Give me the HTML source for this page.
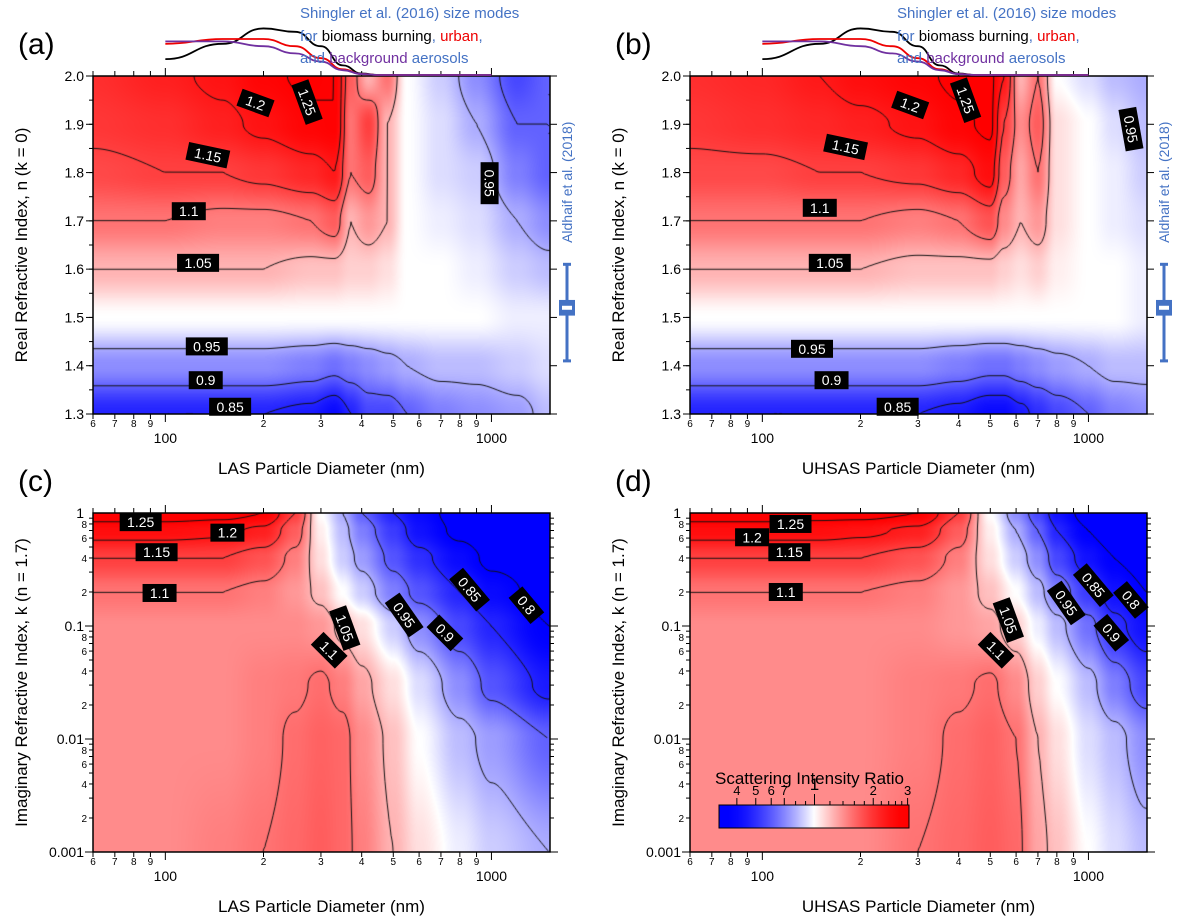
<!DOCTYPE html>
<html><head><meta charset="utf-8">
<style>
body{margin:0;background:#fff;width:1178px;height:922px;overflow:hidden;position:relative;font-family:"Liberation Sans",sans-serif}
canvas{position:absolute}
svg{position:absolute;left:0;top:0}
</style></head>
<body>
<canvas id="cva"></canvas>
<canvas id="cvb"></canvas>
<canvas id="cvc"></canvas>
<canvas id="cvd"></canvas>
<svg id="ov" width="1178" height="922"></svg>
<script>
// ---------- data ----------
const diamA=[60,100,150,200,280,330,370,420,480,550,700,900,1200,1500];
const nRows=[2.0,1.9,1.8,1.7,1.6,1.5,1.4,1.3];
const ratioA=[
[1.17,1.19,1.21,1.24,1.26,1.25,1.12,1.05,1.10,1.00,0.97,0.93,0.88,0.90],
[1.16,1.17,1.19,1.21,1.24,1.25,1.10,1.15,1.05,1.00,0.98,0.95,0.90,0.90],
[1.14,1.15,1.15,1.16,1.18,1.20,1.10,1.12,1.05,1.00,0.98,0.97,0.92,0.90],
[1.10,1.10,1.09,1.09,1.10,1.12,1.05,1.07,1.05,1.00,0.99,0.98,0.95,0.93],
[1.05,1.05,1.05,1.05,1.04,1.04,1.03,1.03,1.02,1.00,1.00,0.99,0.97,0.96],
[1.00,1.00,1.00,1.00,1.00,1.00,1.00,1.00,1.00,1.00,1.00,1.00,0.99,0.99],
[0.93,0.93,0.93,0.93,0.92,0.91,0.92,0.93,0.94,0.95,0.96,0.96,0.97,0.98],
[0.85,0.85,0.85,0.85,0.84,0.82,0.85,0.88,0.88,0.90,0.92,0.93,0.94,0.96]];
const diamB=[60,100,150,200,300,400,500,550,620,700,800,1000,1200,1500];
const ratioB=[
[1.17,1.18,1.20,1.22,1.24,1.26,1.26,1.20,1.05,1.10,1.00,0.98,0.96,0.95],
[1.16,1.17,1.18,1.19,1.21,1.24,1.26,1.15,1.08,1.12,1.02,1.00,0.98,0.96],
[1.14,1.14,1.15,1.15,1.16,1.18,1.22,1.12,1.06,1.10,1.02,1.00,0.99,0.97],
[1.10,1.10,1.10,1.10,1.09,1.10,1.13,1.08,1.05,1.07,1.02,1.00,0.99,0.98],
[1.05,1.05,1.05,1.05,1.04,1.04,1.04,1.03,1.02,1.03,1.01,1.00,1.00,0.99],
[1.00,1.00,1.00,1.00,1.00,1.00,1.00,1.00,1.00,1.00,1.00,1.00,1.00,0.99],
[0.93,0.93,0.93,0.93,0.93,0.92,0.91,0.91,0.92,0.93,0.94,0.95,0.96,0.96],
[0.85,0.85,0.85,0.85,0.85,0.84,0.82,0.82,0.84,0.86,0.88,0.90,0.92,0.93]];
const kRows=[1,0.7,0.4,0.2,0.1,0.03,0.01,0.001];
const diamC=[60,100,150,200,250,300,350,400,500,600,800,1000,1500];
const ratioC=[
[1.28,1.28,1.27,1.25,1.15,1.00,0.95,0.90,0.85,0.82,0.78,0.76,0.76],
[1.22,1.22,1.21,1.19,1.12,1.01,0.96,0.92,0.87,0.83,0.79,0.77,0.76],
[1.15,1.15,1.15,1.13,1.09,1.02,0.97,0.94,0.89,0.86,0.82,0.79,0.77],
[1.10,1.10,1.10,1.09,1.07,1.04,1.00,0.97,0.92,0.89,0.85,0.82,0.78],
[1.08,1.08,1.08,1.08,1.08,1.07,1.04,1.02,0.97,0.93,0.88,0.85,0.80],
[1.08,1.08,1.08,1.09,1.095,1.105,1.09,1.06,1.02,0.98,0.93,0.89,0.84],
[1.08,1.08,1.08,1.09,1.105,1.115,1.11,1.08,1.04,1.00,0.96,0.94,0.90],
[1.08,1.08,1.09,1.10,1.11,1.12,1.11,1.09,1.05,1.02,0.99,0.97,0.95]];
const diamD=[60,100,150,200,300,400,500,600,700,800,1000,1200,1500];
const ratioD=[
[1.28,1.28,1.27,1.27,1.25,1.15,1.00,0.93,0.88,0.83,0.78,0.76,0.76],
[1.22,1.22,1.22,1.21,1.19,1.12,1.01,0.95,0.90,0.85,0.80,0.77,0.76],
[1.15,1.15,1.15,1.15,1.13,1.09,1.02,0.97,0.93,0.88,0.83,0.80,0.78],
[1.10,1.10,1.10,1.10,1.09,1.07,1.04,1.00,0.96,0.92,0.87,0.83,0.80],
[1.08,1.08,1.08,1.08,1.08,1.07,1.06,1.03,0.99,0.96,0.91,0.86,0.83],
[1.08,1.08,1.08,1.08,1.09,1.095,1.105,1.08,1.03,1.00,0.96,0.92,0.88],
[1.08,1.08,1.08,1.08,1.09,1.105,1.115,1.10,1.05,1.02,0.98,0.96,0.93],
[1.08,1.08,1.08,1.08,1.10,1.11,1.12,1.11,1.06,1.04,1.00,0.98,0.96]];
const levelsN=[0.85,0.9,0.95,1.05,1.1,1.15,1.2,1.25];
const levelsK=[0.8,0.85,0.9,0.95,1.05,1.1,1.15,1.2,1.25];
const labelsA=[[189,1.944,'1.2',20],[272,1.946,'1.25',70],[135,1.836,'1.15',12],[118,1.72,'1.1',0],[126,1.613,'1.05',0],[134,1.44,'0.95',0],[133,1.37,'0.9',0],[158,1.315,'0.85',0],[987,1.778,'0.95',90]];
const labelsB=[[284,1.94,'1.2',20],[420,1.95,'1.25',70],[180,1.853,'1.15',12],[150,1.727,'1.1',0],[161,1.613,'1.05',0],[142,1.435,'0.95',0],[163,1.37,'0.9',0],[260,1.315,'0.85',0],[1350,1.89,'0.95',80]];
const labelsC=[[84,0.83,'1.25',0],[155,0.67,'1.2',0],[94,0.45,'1.15',0],[96,0.196,'1.1',0],[355,0.096,'1.05',70],[318,0.061,'1.1',45],[540,0.125,'0.95',55],[720,0.087,'0.9',45],[857,0.21,'0.85',50],[1280,0.153,'0.8',50]];
const labelsD=[[122,0.8,'1.25',0],[93,0.61,'1.2',0],[121,0.45,'1.15',0],[118,0.2,'1.1',0],[568,0.113,'1.05',70],[521,0.061,'1.1',45],[855,0.16,'0.95',55],[1175,0.087,'0.9',50],[1035,0.23,'0.85',50],[1350,0.17,'0.8',50]];
const sizeD=[100,150,200,250,300,350,400,450,1000];
const modeBiomass=[0.33,0.65,0.97,0.90,0.60,0.20,0.03,0,0];
const modeUrban=[0.65,0.75,0.75,0.60,0.35,0.12,0.02,0,0];
const modeBackground=[0.70,0.70,0.60,0.45,0.28,0.10,0.02,0,0];
const aldhaif=[1.41,1.51,1.52,1.53,1.61]; // min, q1, median, q3, max
const xMinorLabels=[60,70,80,90,200,300,400,500,600,700,800,900];
const xMajorLabels=[100,1000];
const nTicks=[1.3,1.4,1.5,1.6,1.7,1.8,1.9,2.0];
const kMajor=[0.001,0.01,0.1,1];
const kMinorLab=[2,4,6,8];
const cbarLabels=[0.4,0.5,0.6,0.7,2,3];
// ---------- helpers ----------
const NS='http://www.w3.org/2000/svg';
const ov=document.getElementById('ov');
function mk(tag,attrs,parent){const e=document.createElementNS(NS,tag);for(const k in attrs)e.setAttribute(k,attrs[k]);(parent||ov).appendChild(e);return e;}
function color(r){
  if(r>=1){let t=Math.min(1,Math.log(r)/Math.log(1.26));let g=255*Math.pow(1-t,1.5);return [255,g,g];}
  let t=Math.min(1,Math.log(r)/Math.log(0.8));let g=255*Math.pow(1-t,1.5);return [g,g,255];
}
function makePanel(cfg){
  const {x0,y0,w,h,dmin,dmax}=cfg;
  const lx=d=>x0+(Math.log10(d)-Math.log10(dmin))/(Math.log10(dmax)-Math.log10(dmin))*w;
  const ly=cfg.logY? v=>y0+(Math.log10(cfg.ymax)-Math.log10(v))/(Math.log10(cfg.ymax)-Math.log10(cfg.ymin))*h
                   : v=>y0+(cfg.ymax-v)/(cfg.ymax-cfg.ymin)*h;
  cfg.lx=lx;cfg.ly=ly;
  const xs=cfg.diam.map(d=>lx(d)-x0), ys=cfg.rows.map(v=>ly(v)-y0);
  function val(px,py){
    let i=0;while(i<xs.length-2&&px>xs[i+1])i++;
    let j=0;while(j<ys.length-2&&py>ys[j+1])j++;
    let tx=Math.max(0,Math.min(1,(px-xs[i])/(xs[i+1]-xs[i])));
    let ty=Math.max(0,Math.min(1,(py-ys[j])/(ys[j+1]-ys[j])));
    tx=tx*tx*(3-2*tx);ty=ty*ty*(3-2*ty);
    const g=cfg.vals;
    return (g[j][i]*(1-tx)+g[j][i+1]*tx)*(1-ty)+(g[j+1][i]*(1-tx)+g[j+1][i+1]*tx)*ty;
  }
  const cv=document.getElementById(cfg.id);cv.width=w;cv.height=h;cv.style.left=x0+'px';cv.style.top=y0+'px';
  const ctx=cv.getContext('2d');const im=ctx.createImageData(w,h);
  for(let y=0;y<h;y++)for(let x=0;x<w;x++){const c=color(val(x+0.5,y+0.5));const o=(y*w+x)*4;im.data[o]=c[0];im.data[o+1]=c[1];im.data[o+2]=c[2];im.data[o+3]=255;}
  ctx.putImageData(im,0,0);
  const s=2,nx=Math.ceil(w/s)+1,ny=Math.ceil(h/s)+1;const G=[];
  for(let j=0;j<ny;j++){G.push([]);for(let i=0;i<nx;i++)G[j].push(val(i*s,j*s));}
  ctx.strokeStyle='#111';ctx.lineWidth=1;ctx.beginPath();
  for(const L of cfg.levels){
    for(let j=0;j<ny-1;j++)for(let i=0;i<nx-1;i++){
      const a=G[j][i],b=G[j][i+1],c=G[j+1][i+1],d=G[j+1][i];const p=[];
      const E=(v1,v2,x1,y1,x2,y2)=>{if((v1-L)*(v2-L)<0){const t=(L-v1)/(v2-v1);p.push([x1+(x2-x1)*t,y1+(y2-y1)*t]);}};
      const X=i*s,Y=j*s;
      E(a,b,X,Y,X+s,Y);E(b,c,X+s,Y,X+s,Y+s);E(c,d,X+s,Y+s,X,Y+s);E(d,a,X,Y+s,X,Y);
      for(let q=0;q+1<p.length;q+=2){ctx.moveTo(p[q][0],p[q][1]);ctx.lineTo(p[q+1][0],p[q+1][1]);}
    }
  }
  ctx.stroke();
  for(const lb of cfg.labels){
    const g=mk('g',{transform:`translate(${lx(lb[0])},${ly(lb[1])}) rotate(${lb[3]})`});
    
    
    const wd=lb[2].length*8+10;
    mk('rect',{x:-wd/2,y:-9,width:wd,height:18,fill:'#000'},g);
    const t=mk('text',{x:0,y:5,'text-anchor':'middle','font-size':14,fill:'#fff'},g);t.textContent=lb[2];
  }
  mk('rect',{x:x0,y:y0,width:w,height:h,fill:'none',stroke:'#000','stroke-width':1.5,});
  for(let dec=10;dec<=1000;dec*=10)for(let m=1;m<10;m++){const d=dec*m;if(d<dmin||d>dmax)continue;const X=lx(d);const major=m===1;
    mk('line',{x1:X,y1:y0+h,x2:X,y2:y0+h+(major?8:5),stroke:'#000'});mk('line',{x1:X,y1:y0,x2:X,y2:y0-(major?8:5),stroke:'#000'});}
  for(const d of xMinorLabels){if(d<dmin||d>dmax)continue;const t=mk('text',{x:lx(d),y:y0+h+13,'text-anchor':'middle','font-size':10});t.textContent=String(d).charAt(0);
    }
  for(const d of xMajorLabels){const t=mk('text',{x:lx(d),y:y0+h+29,'text-anchor':'middle','font-size':14});t.textContent=d;
    }
  if(!cfg.logY){
    for(let v=13;v<=20;v++){const Y=ly(v/10);mk('line',{x1:x0-7,y1:Y,x2:x0,y2:Y,stroke:'#000'});mk('line',{x1:x0+w,y1:Y,x2:x0+w+7,y2:Y,stroke:'#000'});}
    for(let v=26;v<=40;v++){const Y=ly(v/20);mk('line',{x1:x0-4,y1:Y,x2:x0,y2:Y,stroke:'#000'});}
    for(const v of nTicks){const t=mk('text',{x:x0-9,y:ly(v)+5,'text-anchor':'end','font-size':14});t.textContent=v.toFixed(1);
      }
  }else{
    for(const d of [0.001,0.01,0.1]){for(let m=1;m<10;m++){const Y=ly(d*m);const L=m===1?8:4;
      mk('line',{x1:x0-L,y1:Y,x2:x0,y2:Y,stroke:'#000'});mk('line',{x1:x0+w,y1:Y,x2:x0+w+L,y2:Y,stroke:'#000'});}}
    for(const v of kMajor){const t=mk('text',{x:x0-9,y:ly(v)+5,'text-anchor':'end','font-size':14});t.textContent=String(v);
      }
    for(const d of [0.001,0.01,0.1])for(const m of kMinorLab){const t=mk('text',{x:x0-6,y:ly(d*m)+4,'text-anchor':'end','font-size':10});t.textContent=m;}
  }
  const xt=mk('text',{x:x0+w/2,y:y0+h+60,'text-anchor':'middle','font-size':17});xt.textContent=cfg.xt;
  
  const yt=mk('text',{x:0,y:0,'text-anchor':'middle','font-size':17,transform:`translate(${x0-66},${y0+h/2}) rotate(-90)`});yt.textContent=cfg.yt;
  
  const pl=mk('text',{x:x0-75,y:y0-22,'font-size':30});pl.textContent=cfg.tag;
  
  return cfg;
}
const A=makePanel({id:'cva',x0:93,y0:76,w:457,h:338,dmin:60,dmax:1512,ymin:1.3,ymax:2.0,diam:diamA,rows:nRows,vals:ratioA,levels:levelsN,labels:labelsA,xt:'LAS Particle Diameter (nm)',yt:'Real Refractive Index, n (k = 0)',tag:'(a)'});
const B=makePanel({id:'cvb',x0:690,y0:76,w:457,h:338,dmin:60,dmax:1512,ymin:1.3,ymax:2.0,diam:diamB,rows:nRows,vals:ratioB,levels:levelsN,labels:labelsB,xt:'UHSAS Particle Diameter (nm)',yt:'Real Refractive Index, n (k = 0)',tag:'(b)'});
const C=makePanel({id:'cvc',x0:93,y0:513,w:457,h:339,dmin:60,dmax:1512,ymin:0.001,ymax:1,logY:true,diam:diamC,rows:kRows,vals:ratioC,levels:levelsK,labels:labelsC,xt:'LAS Particle Diameter (nm)',yt:'Imaginary Refractive Index, k (n = 1.7)',tag:'(c)'});
const D=makePanel({id:'cvd',x0:690,y0:513,w:457,h:339,dmin:60,dmax:1512,ymin:0.001,ymax:1,logY:true,diam:diamD,rows:kRows,vals:ratioD,levels:levelsK,labels:labelsD,xt:'UHSAS Particle Diameter (nm)',yt:'Imaginary Refractive Index, k (n = 1.7)',tag:'(d)'});
for(const P of [A,B]){
  const modes=[[modeBiomass,'#000','mode-biomass'],[modeUrban,'#e00','mode-urban'],[modeBackground,'#7030a0','mode-background']];
  for(const m of modes){
    const pts=sizeD.map((d,i)=>[P.lx(d),P.y0-1-m[0][i]*48]);
    let dd='M'+pts[0][0]+','+pts[0][1];
    for(let i=1;i<pts.length;i++){const p0=pts[i-1],p1=pts[i];const mx=(p0[0]+p1[0])/2;dd+=` C${mx},${p0[1]} ${mx},${p1[1]} ${p1[0]},${p1[1]}`;}
    const pth=mk('path',{d:dd,fill:'none',stroke:m[1],'stroke-width':1.8});
    
  }
  const tx=P.x0+207;
  const t=mk('text',{x:tx,y:18,'font-size':15,fill:'#4472c4'});t.textContent='Shingler et al. (2016) size modes';
  
  const t2=mk('text',{x:tx,y:41,'font-size':15,fill:'#4472c4'});
  t2.innerHTML='for <tspan fill="#000">biomass burning</tspan>, <tspan fill="#e00">urban</tspan>,';
  const t3=mk('text',{x:tx,y:63,'font-size':15,fill:'#4472c4'});
  t3.innerHTML='and <tspan fill="#7030a0">background</tspan> aerosols';
  const bx=P.x0+P.w+17;
  const g=mk('g',{});
  mk('line',{x1:bx,y1:P.ly(aldhaif[0]),x2:bx,y2:P.ly(aldhaif[4]),stroke:'#4472c4','stroke-width':3},g);
  mk('line',{x1:bx-4,y1:P.ly(aldhaif[0]),x2:bx+4,y2:P.ly(aldhaif[0]),stroke:'#4472c4','stroke-width':3},g);
  mk('line',{x1:bx-4,y1:P.ly(aldhaif[4]),x2:bx+4,y2:P.ly(aldhaif[4]),stroke:'#4472c4','stroke-width':3},g);
  mk('rect',{x:bx-8,y:P.ly(aldhaif[3])-3,width:16,height:P.ly(aldhaif[1])-P.ly(aldhaif[3])+6,fill:'#4472c4'},g);
  mk('rect',{x:bx-5,y:P.ly(aldhaif[2])-2,width:10,height:4,fill:'#fff'},g);
  const at=mk('text',{x:0,y:0,'font-size':14,fill:'#4472c4','text-anchor':'middle',transform:`translate(${bx+5},${P.ly(1.78)}) rotate(-90)`});at.textContent='Aldhaif et al. (2018)';
  
}
(function(){
  const cx0=719,cx1=909,cy=805,ch=23,vmin=0.324,vmax=3.05;
  const cb=v=>cx0+(Math.log(v)-Math.log(vmin))/(Math.log(vmax)-Math.log(vmin))*(cx1-cx0);
  const defs=mk('defs',{});const lg=mk('linearGradient',{id:'cbg',x1:0,x2:1,y1:0,y2:0},defs);
  for(let i=0;i<=20;i++){const v=Math.exp(Math.log(vmin)+(Math.log(vmax)-Math.log(vmin))*i/20);const r=Math.exp(Math.log(v)*0.22);const c=color(r);
    mk('stop',{offset:i/20,'stop-color':`rgb(${c.map(Math.round).join(',')})`},lg);}
  const r=mk('rect',{x:cx0,y:cy,width:cx1-cx0,height:ch,fill:'url(#cbg)',stroke:'#000','stroke-width':1});
  
  const ticks=[0.4,0.5,0.6,0.7,0.8,0.9,1,1.2,1.4,1.6,1.8,2,2.2,2.4,2.6,2.8,3];
  for(const v of ticks){const L=(v===1)?11:(cbarLabels.includes(v)?7:4);mk('line',{x1:cb(v),y1:cy,x2:cb(v),y2:cy-L,stroke:'#000'});}
  for(const v of cbarLabels){const t=mk('text',{x:cb(v),y:cy-10,'text-anchor':'middle','font-size':13});t.textContent=String(v).replace('0.','');}
  const one=mk('text',{x:cb(1),y:cy-15,'text-anchor':'middle','font-size':17});one.textContent='1';
  const tt=mk('text',{x:715,y:784,'font-size':17});tt.textContent='Scattering Intensity Ratio';
  
})();
</script>
</body></html>
